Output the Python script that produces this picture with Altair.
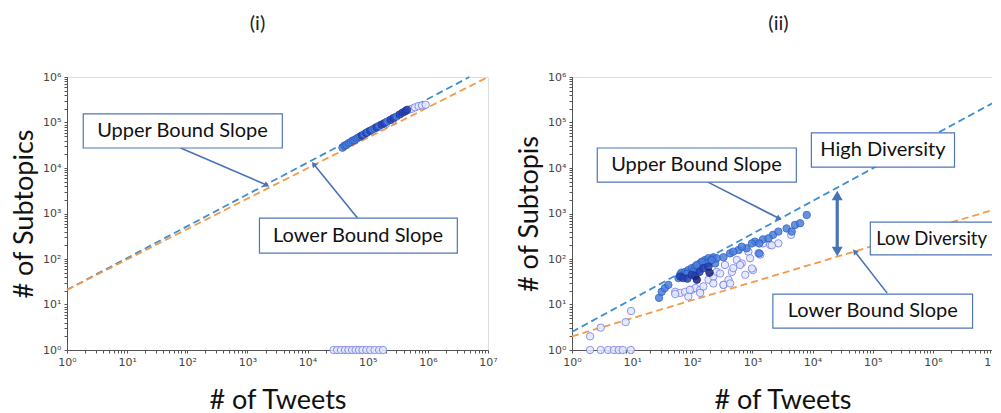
import altair as alt
import pandas as pd

# ---------------- panel (i) data ----------------
i_pts_x = [38000, 41000, 44000, 48000, 52000, 56000, 60000, 65000, 70000, 75000,
           80000, 87000, 95000, 100000, 110000, 120000, 130000, 140000, 155000, 170000,
           190000, 210000, 240000, 270000, 300000, 340000, 380000, 420000, 450000]
i_pts_y = [28000, 31000, 32000, 35000, 37000, 40000, 41000, 44000, 47000, 49000,
           52000, 55000, 59000, 62000, 66000, 70000, 74000, 79000, 85000, 90000,
           97000, 105000, 115000, 126000, 135000, 150000, 165000, 176000, 190000]
i_pts_g = ["mid"] * 10 + ["dark", "mid", "dark", "mid", "dark", "mid", "mid", "dark", "mid", "dark",
                          "dark", "mid", "dark", "dark", "mid", "dark", "dark", "dark", "dark"]
i_open_x = [150000, 200000, 260000, 480000, 540000, 610000, 700000, 800000, 920000]
i_open_y = [78000, 92000, 112000, 190000, 200000, 215000, 230000, 238000, 245000]
i_zero_x = [27000, 31000, 36000, 42000, 48000, 55000, 63000, 72000, 82000, 95000,
            110000, 130000, 155000, 180000]

i_upper_x = [1, 4.9e6]
i_upper_y = [21, 1e6]
i_lower_x = [1, 1e7]
i_lower_y = [21, 1e6]

# ---------------- panel (ii) data ----------------
ii_mid_x = [28, 31, 35, 40, 59, 63, 66, 76, 86, 98, 112, 135, 163, 186, 224,
            71, 91, 104, 126, 153, 198, 240, 255, 330, 426, 590, 800, 1100, 1500, 2200,
            3700, 5100, 8000, 1300, 1850, 2700, 4500, 6200, 480, 665, 980, 1300,
            81, 174, 144, 119, 210]
ii_mid_y = [14, 19, 23, 27, 38, 45, 50, 52, 57, 63, 68, 80, 95, 104, 109,
            42, 48, 52, 57, 74, 87, 80, 104, 109, 133, 158, 172, 240, 270, 340,
            470, 560, 930, 220, 285, 400, 400, 610, 145, 186, 220, 133,
            47, 80, 87, 74, 95]
ii_dark_x = [63, 71, 83, 98, 112, 132, 153, 186]
ii_dark_y = [41, 38, 37, 45, 42, 52, 63, 68]
ii_navy_x = [119, 193]
ii_navy_y = [35, 50]
ii_open_x = [52, 63, 76, 86, 98, 112, 135, 153, 186, 224, 255, 290, 330, 350, 400,
             455, 480, 550, 665, 760, 855, 915, 1020, 1500, 1970, 2700,
             52, 91, 135, 224, 330, 426, 624, 980, 1260, 4400, 2100, 1350,
             2, 3, 7.8, 9.6]
ii_open_y = [19, 18, 19, 15, 21, 23, 21, 25, 35, 41, 52, 48, 27, 74, 35,
             52, 63, 95, 80, 45, 145, 104, 57, 220, 204, 221,
             17, 21, 18, 29, 27, 29, 74, 62, 133, 340, 200, 125,
             2, 3.1, 4.1, 7.2]
ii_zero_x = [2, 3, 4, 5, 6, 7, 9.5]

ii_upper_x = [1, 1e7]
ii_upper_y = [2.5, 2.7e5]
ii_lower_x = [1, 1e7]
ii_lower_y = [2.0, 1200]

# ---------------- annotations (positions as powers of ten) ----------------
i_box_text = ["Upper Bound Slope", "Lower Bound Slope"]
i_box_x = [0.27, 3.20]
i_box_x2 = [3.58, 6.49]
i_box_y = [5.19, 2.90]
i_box_y2 = [4.44, 2.13]
i_text_x = [1.92, 4.84]
i_text_y = [4.81, 2.51]
i_arr_x = [1.89, 4.83]
i_arr_y = [4.44, 2.90]
i_arr_x2 = [3.31, 4.11]
i_arr_y2 = [3.63, 4.07]
i_arr_ang = [116, 321]

ii_box_text = ["Upper Bound Slope", "High Diversity", "Lower Bound Slope"]
ii_box_x = [0.42, 3.98, 4.96, 3.34]
ii_box_x2 = [3.73, 6.36, 7.14, 6.66]
ii_box_y = [4.44, 4.77, 2.81, 1.23]
ii_box_y2 = [3.69, 4.02, 2.09, 0.48]
ii_text_x = [2.07, 5.17, 5.00]
ii_text_y = [4.07, 4.40, 0.86]
ii_small_text = ["Low Diversity"]
ii_small_x = [5.98]
ii_small_y = [2.45]
ii_arr_x = [2.26, 5.24]
ii_arr_y = [3.69, 1.25]
ii_arr_x2 = [3.43, 4.71]
ii_arr_y2 = [2.90, 2.15]
ii_arr_ang = [117, 322]
ii_dbl_x = [4.41]
ii_dbl_y = [3.41]
ii_dbl_y2 = [2.15]
ii_dbl_head_y = [3.36, 2.20]
ii_dbl_head_ang = [0, 180]

# ---------------- helpers ----------------
TICKS_X = [m * 10 ** k for k in range(0, 7) for m in range(1, 10)] + [1e7]
TICKS_Y = [m * 10 ** k for k in range(0, 6) for m in range(1, 10)] + [1e6]
EXP = "round(log(datum.value)/LN10)"
LABEL = ("abs(log(datum.value)/LN10 - " + EXP + ") < 0.01 ? '10' + "
         "['\u2070','\u00b9','\u00b2','\u00b3','\u2074','\u2075','\u2076','\u2077'][" + EXP + "] : ''")

XS = alt.Scale(type="log", domain=[1, 1e7], nice=False)
YS = alt.Scale(type="log", domain=[1, 1e6], nice=False)

AX_COMMON = dict(labelExpr=LABEL, labelFlush=False, labelOverlap=False, grid=False,
                 tickSize=3, tickColor="#555", domainColor="#555", labelColor="#444",
                 labelFont="DejaVu Sans", labelFontSize=11, labelPadding=3,
                 titleFont="Lato", titleFontSize=27, titleFontWeight="normal",
                 titleColor="#111")

GROUPS = ["navy", "dark", "mid", "open"]
FILLS = ["#16247c", "#2642b6", "#4a7edb", "#e2e9fb"]
STROKES = ["#0f1a62", "#1c3296", "#2c5cc4", "#7b80ee"]

def p10(v):
    return [10 ** a for a in v]

def panel(pts, upper, lower, boxes, texts, small_texts, arrows, dbl, dbl_heads, title, ytitle, tdx):
    xax = alt.Axis(values=TICKS_X, title="# of Tweets", titlePadding=20, **AX_COMMON)
    yax = alt.Axis(values=TICKS_Y, title=ytitle, titlePadding=4, **AX_COMMON)
    X = alt.X("x:Q", scale=XS, axis=xax)
    Y = alt.Y("y:Q", scale=YS, axis=yax)

    up = alt.Chart(upper).mark_line(color="#3f8fcf", strokeDash=[7, 4], strokeWidth=1.8).encode(x=X, y=Y)
    lo = alt.Chart(lower).mark_line(color="#f39a4a", strokeDash=[7, 4], strokeWidth=1.8).encode(x=X, y=Y)
    sc = alt.Chart(pts).mark_point(shape="circle", filled=True, size=55, strokeWidth=1,
                                   opacity=0.85, clip=False).encode(
        x=X, y=Y,
        fill=alt.Fill("g:N", scale=alt.Scale(domain=GROUPS, range=FILLS), legend=None),
        stroke=alt.Stroke("g:N", scale=alt.Scale(domain=GROUPS, range=STROKES), legend=None),
        order=alt.Order("o:Q"),
    )
    rect = alt.Chart(boxes).mark_rect(fill="white", stroke="#4f76b8", strokeWidth=1.2,
                                      clip=False).encode(x=X, x2="x2:Q", y=Y, y2="y2:Q")
    txt = alt.Chart(texts).mark_text(font="Lato", fontSize=20, color="#111",
                                     align="center", baseline="middle", clip=False).encode(
        x=X, y=Y, text="t:N")
    ar = alt.Chart(arrows).mark_rule(color="#4a72b8", strokeWidth=1.6).encode(
        x=X, x2="x2:Q", y=Y, y2="y2:Q")
    hd = alt.Chart(arrows).mark_point(shape="triangle", filled=True, color="#4a72b8",
                                      size=38, opacity=1).encode(
        x=alt.X("x2:Q", scale=XS, axis=xax), y=alt.Y("y2:Q", scale=YS, axis=yax),
        angle=alt.Angle("a:Q", scale=None))
    layers = [up, lo, sc, ar, hd, rect, txt]
    if small_texts is not None:
        layers.append(alt.Chart(small_texts).mark_text(
            font="Lato", fontSize=18.5, color="#111", align="center", baseline="middle",
            clip=False).encode(x=X, y=Y, text="t:N"))
    if dbl is not None:
        layers.append(alt.Chart(dbl).mark_rule(color="#4a72b8", strokeWidth=3.2).encode(
            x=X, y=Y, y2="y2:Q"))
        layers.append(alt.Chart(dbl_heads).mark_point(shape="triangle", filled=True,
                                                      color="#4a72b8", size=120, opacity=1).encode(
            x=X, y=Y, angle=alt.Angle("a:Q", scale=None)))
    return alt.layer(*layers).properties(
        width=421, height=273,
        title=alt.TitleParams(title, font="Lato", fontSize=20, fontWeight="normal",
                              color="#222", offset=37, dx=tdx))

# ---------------- tables ----------------
i_pts = pd.DataFrame({
    "x": i_zero_x + i_open_x + i_pts_x,
    "y": [1] * len(i_zero_x) + i_open_y + i_pts_y,
    "g": ["open"] * (len(i_zero_x) + len(i_open_x)) + i_pts_g,
})
i_pts["o"] = range(len(i_pts))
ii_pts = pd.DataFrame({
    "x": ii_zero_x + ii_open_x + ii_mid_x + ii_dark_x + ii_navy_x,
    "y": [1] * len(ii_zero_x) + ii_open_y + ii_mid_y + ii_dark_y + ii_navy_y,
    "g": ["open"] * (len(ii_zero_x) + len(ii_open_x)) + ["mid"] * len(ii_mid_x)
         + ["dark"] * len(ii_dark_x) + ["navy"] * len(ii_navy_x),
})
ii_pts["o"] = range(len(ii_pts))

left = panel(
    i_pts,
    pd.DataFrame({"x": i_upper_x, "y": i_upper_y}),
    pd.DataFrame({"x": i_lower_x, "y": i_lower_y}),
    pd.DataFrame({"x": p10(i_box_x), "x2": p10(i_box_x2), "y": p10(i_box_y), "y2": p10(i_box_y2)}),
    pd.DataFrame({"x": p10(i_text_x), "y": p10(i_text_y), "t": i_box_text}),
    None,
    pd.DataFrame({"x": p10(i_arr_x), "y": p10(i_arr_y), "x2": p10(i_arr_x2),
                  "y2": p10(i_arr_y2), "a": i_arr_ang}),
    None, None, "(i)", "# of Subtopics", -20)

right = panel(
    ii_pts,
    pd.DataFrame({"x": ii_upper_x, "y": ii_upper_y}),
    pd.DataFrame({"x": ii_lower_x, "y": ii_lower_y}),
    pd.DataFrame({"x": p10(ii_box_x), "x2": p10(ii_box_x2), "y": p10(ii_box_y), "y2": p10(ii_box_y2)}),
    pd.DataFrame({"x": p10(ii_text_x), "y": p10(ii_text_y), "t": ii_box_text}),
    pd.DataFrame({"x": p10(ii_small_x), "y": p10(ii_small_y), "t": ii_small_text}),
    pd.DataFrame({"x": p10(ii_arr_x), "y": p10(ii_arr_y), "x2": p10(ii_arr_x2),
                  "y2": p10(ii_arr_y2), "a": ii_arr_ang}),
    pd.DataFrame({"x": p10(ii_dbl_x), "y": p10(ii_dbl_y), "y2": p10(ii_dbl_y2)}),
    pd.DataFrame({"x": p10(ii_dbl_x * 2), "y": p10(ii_dbl_head_y), "a": ii_dbl_head_ang}),
    "(ii)", "# of Subtopis", -4)

chart = alt.hconcat(left, right, spacing=17).properties(
    padding={"left": 2, "top": 5, "right": -11, "bottom": 0}
).configure_view(stroke="#555", strokeWidth=1).configure(background="white")

chart.save("out.html", embed_options={"renderer": "svg", "actions": False})
